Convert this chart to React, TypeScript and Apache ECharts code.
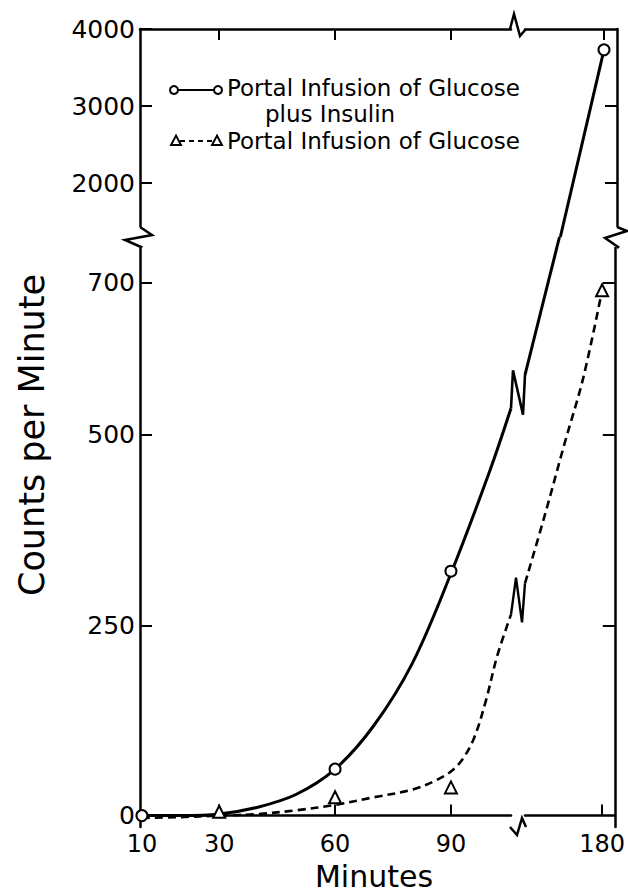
import React, { useEffect, useRef } from "react";
import * as echarts from "echarts";

// Tick labels
const xLabelsLeft = [10, 30, 60, 90];
const xTicksLeft = [30, 60, 90];
const xLabelsRight = [180];
const yLabelsLower = [0, 250, 500, 700];
const yTicksLowerRight = [250, 500, 700];
const yLabelsUpper = [2000, 3000, 4000];
const yTicksUpperRight = [2000, 3000];

// Observed points (minutes, counts per minute)
const insulinPoints = [[10, 0], [60, 61], [90, 321], [180, 3730]];
const glucosePoints = [[30, 5], [60, 24], [90, 37], [180, 690]];

// Fitted curves
const insulinCurveLeft = [
  [10, 0], [20, 0], [30, 2], [40, 11], [50, 28], [60, 61],
  [70, 118], [80, 200], [90, 318], [100, 452], [105.55, 535],
];
const insulinCurveRightLower = [[159.55, 579], [168.7, 760]];
const insulinCurveRightUpper = [[168.7, 1300], [180, 3730]];
const glucoseCurveLeft = [
  [10, -3], [20, -2], [30, 0], [40, 2], [50, 7], [60, 14],
  [70, 24], [80, 34], [86, 46], [90, 58], [93, 74], [96, 102], [99, 150], [102, 210], [105.55, 264],
];
const glucoseCurveRight = [
  [159.55, 305], [165, 398], [170, 488], [175, 575], [180, 690],
];

const legendTitle1 = "Portal Infusion of Glucose";
const legendTitle1b = "plus Insulin";
const legendTitle2 = "Portal Infusion of Glucose";
const xTitle = "Minutes";
const yTitle = "Counts per Minute";

const FONT = "DejaVu Sans";
const X_LEFT = [9.5, 105.55];
const X_RIGHT = [159.55, 183.37];
const Y_LOWER = [-15, 760];
const Y_UPPER = [1300, 4000];

export default function App() {
  const ref = useRef<HTMLDivElement>(null);
  useEffect(() => {
    document.body.style.margin = "0";
    const chart = echarts.init(ref.current!, null, { renderer: "svg" });
    const axisLine = { show: true, lineStyle: { color: "#000", width: 2.5 } };
    const fmt = (v: number) => String(v);
    const mkX = (gridIndex: number, position: string, range: number[], labels: number[], ticks: number[]) => ({
      type: "value", gridIndex, position, min: range[0], max: range[1],
      axisLine, splitLine: { show: false },
      axisTick: { show: ticks.length > 0, inside: true, length: 11, lineStyle: { color: "#000", width: 2 }, customValues: ticks },
      axisLabel: { show: labels.length > 0, customValues: labels, formatter: fmt, margin: 4, color: "#000", fontFamily: FONT, fontSize: 24, lineHeight: 26 },
    });
    const mkY = (gridIndex: number, position: string, range: number[], labels: number[], ticks: number[]) => ({
      type: "value", gridIndex, position, min: range[0], max: range[1],
      axisLine, splitLine: { show: false },
      axisTick: { show: ticks.length > 0, inside: true, length: 12, lineStyle: { color: "#000", width: 2 }, customValues: ticks },
      axisLabel: { show: labels.length > 0, customValues: labels, formatter: fmt, margin: 5, color: "#000", fontFamily: FONT, fontSize: 25 },
    });
    const inGrid = (p: number[], xr: number[], yr: number[]) => p[0] >= xr[0] && p[0] <= xr[1] && p[1] >= yr[0] && p[1] <= yr[1];
    const lineSolid = { color: "#000", width: 3 };
    const lineDash = { color: "#000", width: 2.6, type: [8, 5] };
    const mkLine = (idx: number, data: number[][], style: any) => ({
      type: "line", xAxisIndex: idx, yAxisIndex: idx, data, smooth: 0.35,
      showSymbol: false, symbol: "none", lineStyle: style, z: 2, silent: true,
    });
    const mkScatter = (idx: number, data: number[][], symbol: string, size: number) => ({
      type: "scatter", xAxisIndex: idx, yAxisIndex: idx, data, symbol, symbolSize: size, clip: false,
      itemStyle: { color: "#fff", borderColor: "#000", borderWidth: 2, opacity: 1 }, z: 5, silent: true,
    });
    const ranges = [
      [X_LEFT, Y_LOWER], [X_RIGHT, Y_LOWER], [X_LEFT, Y_UPPER], [X_RIGHT, Y_UPPER],
    ];
    const scatters: any[] = [];
    ranges.forEach((r, i) => {
      const ins = insulinPoints.filter((p) => inGrid(p, r[0], r[1]));
      const glu = glucosePoints.filter((p) => inGrid(p, r[0], r[1]));
      if (ins.length) scatters.push(mkScatter(i, ins, "circle", 11));
      if (glu.length) scatters.push(mkScatter(i, glu, "triangle", 12));
    });

    chart.setOption({
      animation: false,
      grid: [
        { left: 140, top: 237, width: 371, height: 590 },
        { left: 525, top: 237, width: 92, height: 590 },
        { left: 140, top: 29, width: 371, height: 208 },
        { left: 525, top: 29, width: 92, height: 208 },
      ],
      xAxis: [
        mkX(0, "bottom", X_LEFT, xLabelsLeft, xTicksLeft),
        mkX(1, "bottom", X_RIGHT, xLabelsRight, xLabelsRight),
        mkX(2, "top", X_LEFT, [], xTicksLeft),
        mkX(3, "top", X_RIGHT, [], xLabelsRight),
      ],
      yAxis: [
        mkY(0, "left", Y_LOWER, yLabelsLower, yLabelsLower),
        mkY(1, "right", Y_LOWER, [], yTicksLowerRight),
        mkY(2, "left", Y_UPPER, yLabelsUpper, yLabelsUpper),
        mkY(3, "right", Y_UPPER, [], yTicksUpperRight),
      ],
      series: [
        mkLine(0, insulinCurveLeft, lineSolid),
        mkLine(1, insulinCurveRightLower, lineSolid),
        mkLine(3, insulinCurveRightUpper, lineSolid),
        mkLine(0, glucoseCurveLeft, lineDash),
        mkLine(1, glucoseCurveRight, lineDash),
        ...scatters,
      ],
    });

    const px = (idx: number, p: number[]) =>
      chart.convertToPixel({ xAxisIndex: idx, yAxisIndex: idx } as any, p) as unknown as number[];
    const last = (a: number[][]) => a[a.length - 1];
    const sL = px(0, last(insulinCurveLeft));
    const sR = px(1, insulinCurveRightLower[0]);
    const dL = px(0, last(glucoseCurveLeft));
    const dR = px(1, glucoseCurveRight[0]);
    const topY = 29, botY = 827, breakY = 237, leftX = 140, rightX = 617;
    const gapL = 511, gapR = 525;
    const stroke = (w: number) => ({ stroke: "#000", lineWidth: w, fill: "none" });
    const poly = (points: number[][], w = 2.5, extra: any = {}) => ({
      type: "polyline", shape: { points }, style: { ...stroke(w), ...extra }, z: 100, silent: true,
    });
    const mask = (x: number, y: number, w: number, h: number) => ({
      type: "rect", shape: { x, y, width: w, height: h }, style: { fill: "#fff" }, z: 99, silent: true,
    });
    const text = (t: string, x: number, y: number, size: number, extra: any = {}) => ({
      type: "text", x, y, z: 100, silent: true,
      style: { text: t, fill: "#000", font: `${size}px "${FONT}"`, lineHeight: size, verticalAlign: "middle", ...extra },
    });
    const tri = (cx: number, cy: number, s: number) => ({
      type: "polygon", shape: { points: [[cx, cy - s * 0.6], [cx - s * 0.55, cy + s * 0.45], [cx + s * 0.55, cy + s * 0.45]] },
      style: { fill: "#fff", stroke: "#000", lineWidth: 2 }, z: 101, silent: true,
    });
    const circ = (cx: number, cy: number, r: number) => ({
      type: "circle", shape: { cx, cy, r }, style: { fill: "#fff", stroke: "#000", lineWidth: 2 }, z: 101, silent: true,
    });

    chart.setOption({
      graphic: {
        elements: [
          // axis breaks on the vertical axes
          mask(leftX - 5, breakY - 10, 10, 20),
          poly([[leftX, breakY - 10], [leftX + 12, breakY - 2], [leftX - 15, breakY + 3], [leftX + 1, breakY + 10], [leftX, breakY + 11]]),
          mask(rightX - 5, breakY - 10, 10, 20),
          poly([[rightX, breakY - 10], [rightX + 10, breakY - 6], [rightX - 12, breakY + 1], [rightX + 1, breakY + 10], [rightX, breakY + 11]]),
          // axis breaks on the horizontal axes
          poly([[gapL - 1, topY], [gapL + 3, topY - 15], [gapL + 9, topY + 7], [gapR + 1, topY]]),
          poly([[gapL - 1, botY], [gapL + 6, botY + 8], [gapL + 11, botY - 9], [gapR + 1, botY]]),
          // break marks on the curves
          poly([sL, [sL[0] + 2, sL[1] - 38], [sR[0] - 2, sR[1] + 40], sR], 2.6),
          poly([dL, [dL[0] + 5, dL[1] - 37], [dR[0] - 3, dR[1] + 39], dR], 2.4),
          // legend
          poly([[178, 90], [214, 90]], 2.2),
          circ(174, 90, 4),
          circ(218, 90, 4),
          text(legendTitle1, 227, 88, 23),
          text(legendTitle1b, 265, 114, 23),
          poly([[180, 141], [213, 141]], 2, { lineDash: [5, 4] }),
          tri(176, 141, 9),
          tri(217, 141, 9),
          text(legendTitle2, 227, 141, 23),
          // axis titles
          text(xTitle, 374, 876, 30, { align: "center" }),
          { ...text(yTitle, 32, 435, 35, { align: "center" }), rotation: Math.PI / 2 },
        ],
      },
    });
    return () => chart.dispose();
  }, []);
  return <div ref={ref} style={{ width: 628, height: 894 }} />;
}
